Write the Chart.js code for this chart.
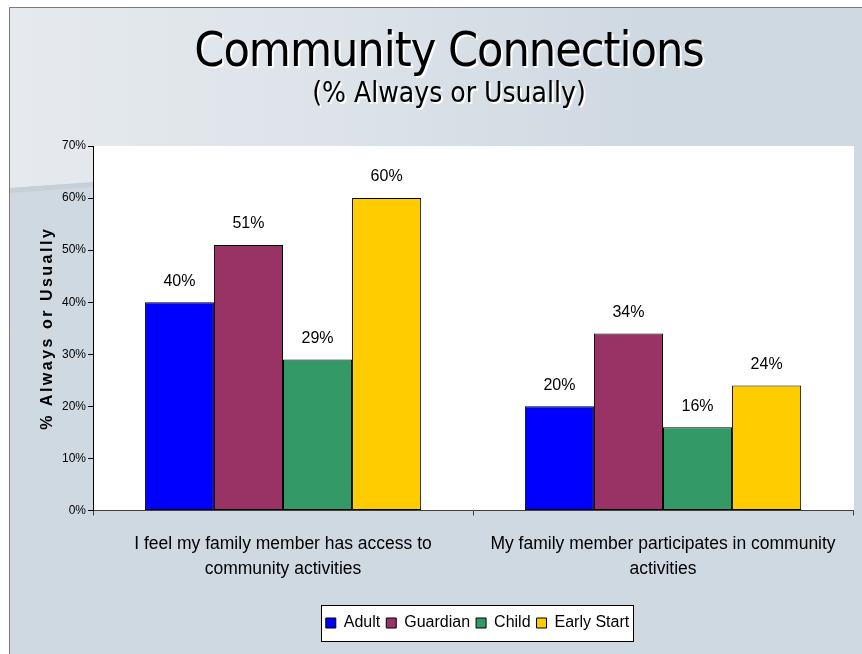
<!DOCTYPE html>
<html>
<head>
<meta charset="utf-8">
<script src="https://cdn.jsdelivr.net/npm/chart.js@4/dist/chart.umd.min.js"></script>
<style>
html,body{margin:0;padding:0;background:#fff;}
#wrap{width:862px;height:654px;position:relative;}
canvas{display:block;}
</style>
</head>
<body>
<div id="wrap"><canvas id="c" width="862" height="654"></canvas></div>
<script>
// ---- data ----
const categories = [
  ["I feel my family member has access to", "community activities"],
  ["My family member participates in community", "activities"]
];
const seriesNames = ["Adult", "Guardian", "Child", "Early Start"];
const adult = [40, 20];
const guardian = [51, 34];
const child = [29, 16];
const earlyStart = [60, 24];
const yTickValues = [0, 10, 20, 30, 40, 50, 60, 70];
const titleText = "Community Connections";
const subtitleText = "(% Always or Usually)";
const yAxisTitle = "% Always or Usually";

const seriesValues = [adult, guardian, child, earlyStart];
const seriesColors = ["#0000FF", "#993366", "#339966", "#FFCC00"];
const baseFont = '"Liberation Sans", Arial, sans-serif';
const titleFont = '"DejaVu Sans Condensed", "DejaVu Sans", Tahoma, sans-serif';

const bgPlugin = {
  id: 'bg',
  afterLayout(chart) {
    // slide title block is centred slightly right of the chart area in the original
    chart.boxes.forEach(box => {
      if (box !== chart.legend && box.options && box.options.text && box.options.position === 'top') {
        box.left += 35;
      }
    });
    if (chart.legend) chart.legend.left += 92;
  },
  beforeDraw(chart) {
    const ctx = chart.ctx, a = chart.chartArea;
    const W = chart.width, H = chart.height;
    ctx.save();
    ctx.fillStyle = '#ffffff';
    ctx.fillRect(0, 0, W, H);
    ctx.fillStyle = '#cfd9e2';
    ctx.fillRect(9, 7, W, H);
    // light upper swoosh region
    const g = ctx.createLinearGradient(10, 0, 650, 0);
    g.addColorStop(0, '#e6eaee');
    g.addColorStop(0.5, '#dde3e9');
    g.addColorStop(1, '#cfd9e2');
    ctx.beginPath();
    ctx.moveTo(10, 8); ctx.lineTo(W, 8); ctx.lineTo(W, 127); ctx.lineTo(10, 188);
    ctx.closePath();
    ctx.fillStyle = g;
    ctx.fill();
    // darker band under swoosh
    const g2 = ctx.createLinearGradient(10, 0, 650, 0);
    g2.addColorStop(0, '#c6cfd8');
    g2.addColorStop(1, '#cfd9e2');
    ctx.beginPath();
    ctx.moveTo(10, 188); ctx.lineTo(W, 127); ctx.lineTo(W, 132); ctx.lineTo(10, 193);
    ctx.closePath();
    ctx.fillStyle = g2;
    ctx.fill();
    // slide border
    ctx.strokeStyle = '#7a7a7a';
    ctx.lineWidth = 1;
    ctx.beginPath();
    ctx.moveTo(9.5, H); ctx.lineTo(9.5, 7.5); ctx.lineTo(W, 7.5);
    ctx.stroke();
    // plot area
    ctx.fillStyle = '#ffffff';
    ctx.fillRect(a.left, a.top, a.right - a.left + 1, a.bottom - a.top);
    // legend frame
    const hb = chart.legend && chart.legend.legendHitBoxes;
    if (hb && hb.length) {
      let l = Infinity, r = -Infinity, t = Infinity, b = -Infinity;
      hb.forEach(h => {
        l = Math.min(l, h.left); r = Math.max(r, h.left + h.width);
        t = Math.min(t, h.top); b = Math.max(b, h.top + h.height);
      });
      const cy = (t + b) / 2;
      const x0 = Math.round(l - 5) + 0.5, x1 = Math.round(r + 4) + 0.5;
      const y0 = Math.round(cy - 18) + 0.5, y1 = Math.round(cy + 18) + 0.5;
      ctx.fillStyle = '#ffffff';
      ctx.fillRect(x0, y0, x1 - x0, y1 - y0);
      ctx.strokeStyle = '#000000';
      ctx.strokeRect(x0, y0, x1 - x0, y1 - y0);
    }
    // title shadow patch
    chart.boxes.forEach(box => {
      if (box !== chart.legend && box.options && box.options.text && !box._shadowPatched) {
        const orig = box.draw.bind(box);
        const isMain = box.options.text === titleText;
        box.draw = function () {
          const c = this.ctx;
          c.save();
          c.shadowColor = 'rgba(255,255,255,0.95)';
          c.shadowOffsetX = 2; c.shadowOffsetY = 2; c.shadowBlur = 0;
          if (isMain) c.letterSpacing = '-1px';
          orig();
          c.restore();
        };
        box._shadowPatched = true;
      }
    });
    ctx.restore();
  }
};

const valuePlugin = {
  id: 'values',
  afterDatasetsDraw(chart) {
    const ctx = chart.ctx;
    ctx.save();
    ctx.font = '16px ' + baseFont;
    ctx.fillStyle = '#000';
    ctx.textAlign = 'center';
    ctx.textBaseline = 'middle';
    chart.data.datasets.forEach((ds, i) => {
      chart.getDatasetMeta(i).data.forEach((bar, j) => {
        ctx.fillText(ds.data[j] + '%', bar.x, bar.y - 21);
      });
    });
    ctx.restore();
  }
};

new Chart(document.getElementById('c'), {
  type: 'bar',
  data: {
    labels: categories,
    datasets: seriesNames.map((n, i) => ({
      label: n,
      data: seriesValues[i],
      backgroundColor: seriesColors[i],
      borderColor: '#000000',
      borderWidth: 1,
      borderSkipped: false,
      categoryPercentage: 0.727,
      barPercentage: 1.0
    }))
  },
  options: {
    responsive: false,
    animation: false,
    devicePixelRatio: 1,
    layout: { padding: { left: 10, right: 9, top: 8, bottom: 13 } },
    plugins: {
      tooltip: { enabled: false },
      title: {
        display: true,
        text: titleText,
        color: '#000',
        font: { family: titleFont, size: 48, weight: 'normal', lineHeight: 1.0 },
        padding: { top: 21.6, bottom: 0.6 }
      },
      subtitle: {
        display: true,
        text: subtitleText,
        color: '#000',
        font: { family: titleFont, size: 28, weight: 'normal' },
        padding: { top: 0, bottom: 34.2 }
      },
      legend: {
        position: 'bottom',
        labels: {
          color: '#000',
          font: { family: baseFont, size: 16 },
          boxWidth: 10,
          boxHeight: 10,
          padding: 6
        }
      }
    },
    scales: {
      x: {
        grid: { drawOnChartArea: false, offset: true, tickLength: 5, color: '#404040' },
        border: { display: true, color: '#404040', width: 1 },
        ticks: {
          color: '#000',
          font: { family: baseFont, size: 17.5, lineHeight: 1.43 },
          padding: 16,
          maxRotation: 0,
          autoSkip: false
        },
        afterFit(scale) { scale.height = 98.5; }
      },
      y: {
        min: 0,
        max: 70,
        afterBuildTicks(scale) { scale.ticks = yTickValues.map(v => ({ value: v })); },
        grid: { drawOnChartArea: false, tickLength: 5, color: '#000' },
        border: { display: true, color: '#000', width: 1 },
        ticks: {
          color: '#000',
          font: { family: baseFont, size: 12 },
          padding: 2,
          callback: v => v + '%'
        },
        title: {
          display: true,
          text: yAxisTitle,
          color: '#000',
          font: { family: baseFont, size: 16, weight: 'bold' },
          padding: { top: 28, bottom: 0 }
        },
        afterFit(scale) {
          scale.width = 83;
          if (!scale._lsPatched) {
            const orig = scale.drawTitle.bind(scale);
            scale.drawTitle = function () {
              const c = this.ctx;
              c.save();
              c.letterSpacing = '2.5px';
              orig();
              c.restore();
            };
            scale._lsPatched = true;
          }
        }
      }
    }
  },
  plugins: [bgPlugin, valuePlugin]
});
</script>
</body>
</html>
